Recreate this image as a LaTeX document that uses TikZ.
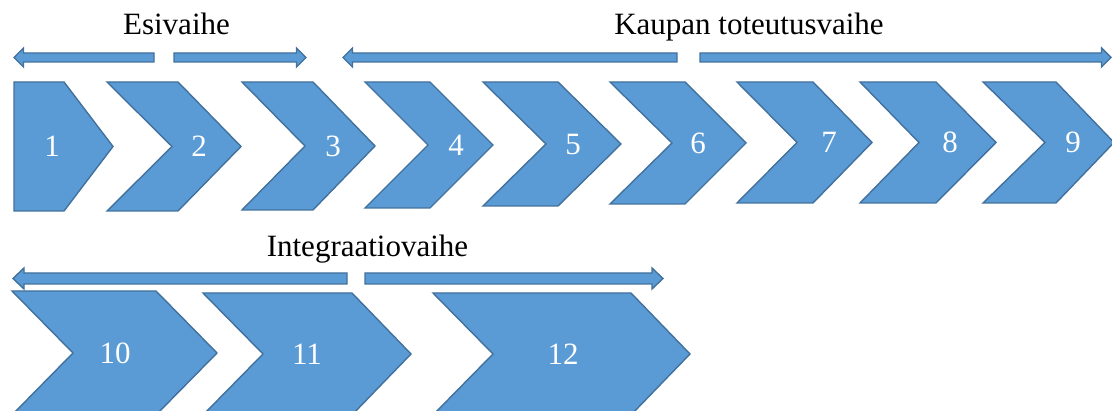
\documentclass[tikz,border=0pt]{standalone}
\usepackage{fontspec}
\setmainfont{Liberation Serif}
\definecolor{chevfill}{HTML}{5B9BD5}
\definecolor{chevline}{HTML}{41719C}
\tikzset{
  blockshape/.style={fill=chevfill, draw=chevline, line width=1.4pt, line join=miter},
  numlabel/.style={text=white, font=\fontsize{31}{36}\selectfont, anchor=base, inner sep=0pt},
  phaselabel/.style={text=black, font=\fontsize{31}{36}\selectfont, anchor=base, inner sep=0pt}
}
% #1 TL x, #2 TR x, #3 tip x, #4 notch x, #5 top y, #6 bottom y, #7 label, #8 label x, #9 name
\newcommand\chevdraw[9]{%
  \pgfmathsetmacro\midy{(#5+#6)/2}%
  \draw[blockshape] (#1,#5) -- (#2,#5) -- (#3,\midy) -- (#2,#6) -- (#1,#6) -- (#4,\midy) -- cycle;
  \node[numlabel] (#9) at (#8,\midy+10.5) {#7};
}
% left-pointing block arrow: #1 tip x, #2 tail x, #3 centre y, #4 shaft half, #5 head half, #6 head length
\newcommand\leftblock[6]{%
  \draw[blockshape] (#2,#3-#4) -- (#1+#6,#3-#4) -- (#1+#6,#3-#5) -- (#1,#3) -- (#1+#6,#3+#5) -- (#1+#6,#3+#4) -- (#2,#3+#4) -- cycle;
}
% right-pointing block arrow: #1 tail x, #2 tip x
\newcommand\rightblock[6]{%
  \draw[blockshape] (#1,#3-#4) -- (#2-#6,#3-#4) -- (#2-#6,#3-#5) -- (#2,#3) -- (#2-#6,#3+#5) -- (#2-#6,#3+#4) -- (#1,#3+#4) -- cycle;
}
\begin{document}
\begin{tikzpicture}[x=1pt,y=-1pt]
\useasboundingbox (0,0) rectangle (1112,411);
\begin{scope}
\clip (0,0) rectangle (1112,411);
% phase labels
\node[phaselabel] (esi) at (176.5,35) {Esivaihe};
\node[phaselabel] (kaupan) at (749,35) {Kaupan toteutusvaihe};
\node[phaselabel] (integ) at (367.5,257) {Integraatiovaihe};
% row 1 arrows
\leftblock{14}{154}{57.5}{4.5}{9.5}{9.5}
\rightblock{174}{306}{57.5}{4.5}{9.5}{9.5}
\leftblock{343}{677}{57.5}{4.5}{9.5}{9.5}
\rightblock{700}{1111}{57.5}{4.5}{9.5}{9.5}
% row 2 arrows
\leftblock{13}{347}{278.5}{5.5}{10.5}{11}
\rightblock{365}{663}{278.5}{5.5}{10.5}{11}
% shape 1 (pentagon)
\draw[blockshape] (14,82) -- (64,82) -- (113,146.5) -- (64,211) -- (14,211) -- cycle;
\node[numlabel] (s1) at (52,157) {1};
% row 1 chevrons
\chevdraw{107}{178}{241}{172}{82}{211}{2}{199}{s2}
\chevdraw{242}{313}{375}{305}{82}{210}{3}{333}{s3}
\chevdraw{365}{430}{493}{428}{82}{208}{4}{456}{s4}
\chevdraw{483}{558}{621}{546}{82}{206}{5}{573}{s5}
\chevdraw{610}{685}{746}{672}{82}{204}{6}{698}{s6}
\chevdraw{737}{813}{872}{797}{82}{203}{7}{829}{s7}
\chevdraw{860}{936}{996}{919}{82}{203}{8}{950}{s8}
\chevdraw{983}{1056}{1114}{1045}{82}{203}{9}{1073}{s9}
% row 2 chevrons
\chevdraw{12}{156}{217}{73}{291}{415}{10}{115}{s10}
\chevdraw{203}{352}{411}{263}{293}{415}{11}{307}{s11}
\chevdraw{433}{631}{690}{493}{293}{415}{12}{563}{s12}
\end{scope}
\end{tikzpicture}
\end{document}
